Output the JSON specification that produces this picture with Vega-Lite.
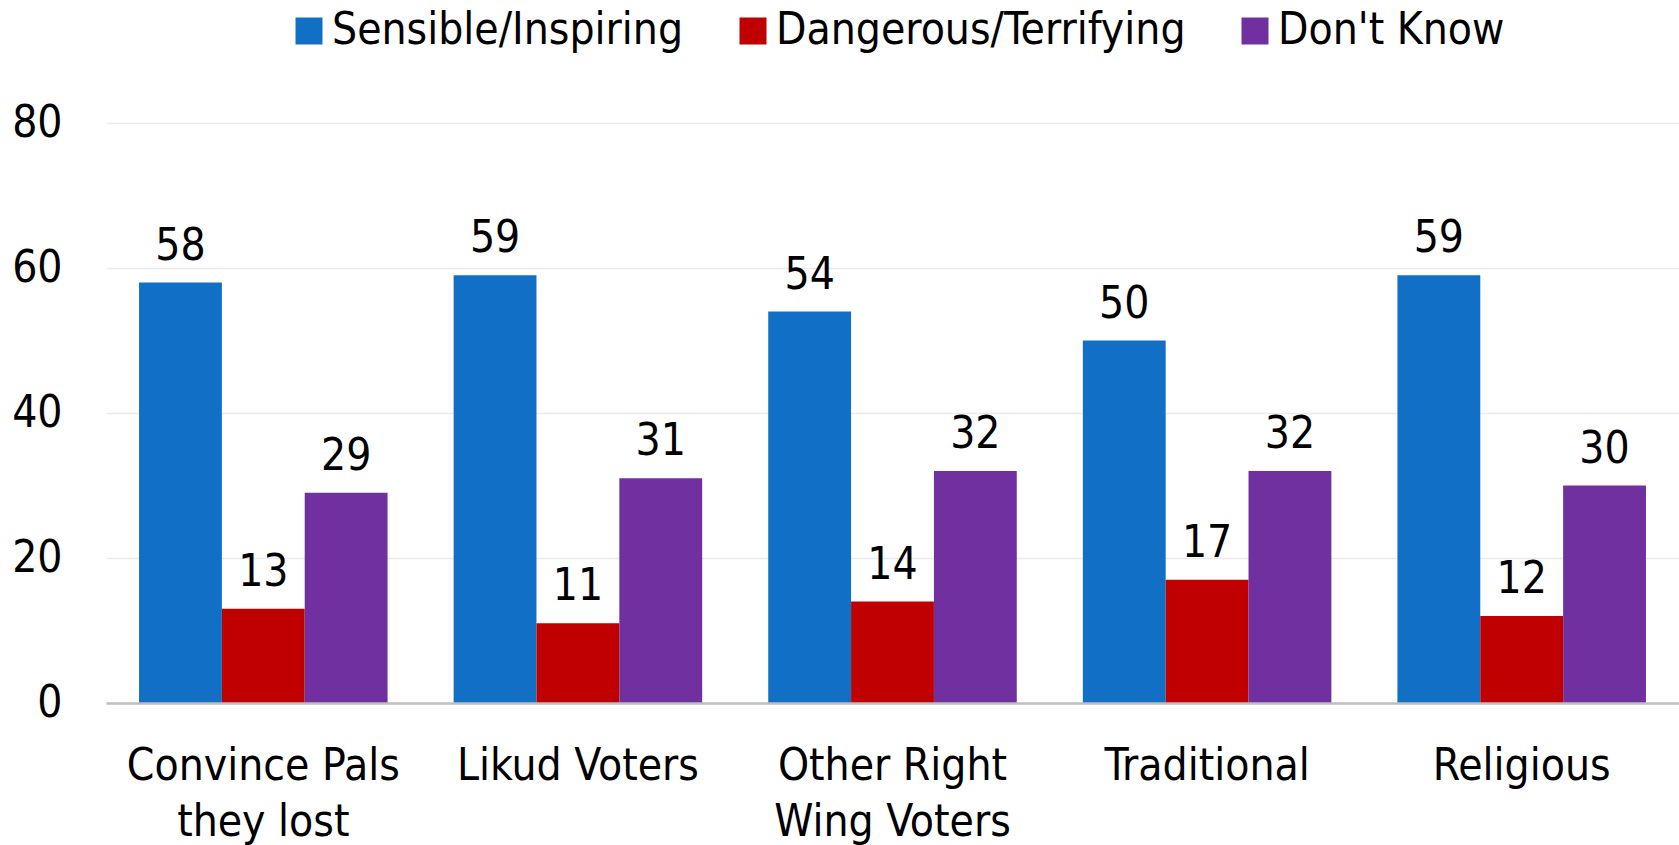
{
  "$schema": "https://vega.github.io/schema/vega-lite/v6.json",
  "autosize": {"type": "none"},
  "width": 1573,
  "height": 580,
  "padding": {"left": 106, "top": 123, "right": 0, "bottom": 142},
  "background": "white",
  "config": {
    "font": "Liberation Sans Narrow, DejaVu Sans Condensed, Liberation Sans",
    "view": {"stroke": null}
  },
  "data": {
    "values": [
      {"group": "Convince Pals they lost", "answer": "Sensible/Inspiring", "value": 58},
      {"group": "Convince Pals they lost", "answer": "Dangerous/Terrifying", "value": 13},
      {"group": "Convince Pals they lost", "answer": "Don't Know", "value": 29},
      {"group": "Likud Voters", "answer": "Sensible/Inspiring", "value": 59},
      {"group": "Likud Voters", "answer": "Dangerous/Terrifying", "value": 11},
      {"group": "Likud Voters", "answer": "Don't Know", "value": 31},
      {"group": "Other Right Wing Voters", "answer": "Sensible/Inspiring", "value": 54},
      {"group": "Other Right Wing Voters", "answer": "Dangerous/Terrifying", "value": 14},
      {"group": "Other Right Wing Voters", "answer": "Don't Know", "value": 32},
      {"group": "Traditional", "answer": "Sensible/Inspiring", "value": 50},
      {"group": "Traditional", "answer": "Dangerous/Terrifying", "value": 17},
      {"group": "Traditional", "answer": "Don't Know", "value": 32},
      {"group": "Religious", "answer": "Sensible/Inspiring", "value": 59},
      {"group": "Religious", "answer": "Dangerous/Terrifying", "value": 12},
      {"group": "Religious", "answer": "Don't Know", "value": 30}
    ]
  },
  "encoding": {
    "x": {
      "field": "group", "type": "nominal", "sort": null,
      "scale": {"paddingInner": 0.21, "paddingOuter": 0.105},
      "axis": {
        "title": null, "ticks": false, "domain": true, "domainColor": "#bfbfbf", "domainWidth": 2.5,
        "labelAngle": 0, "labelFontSize": 44, "labelColor": "#000000", "labelPadding": 41,
        "labelBaseline": "top", "labelLineHeight": 56, "labelLimit": 400, "zindex": 1,
        "labelExpr": "datum.label == 'Convince Pals they lost' ? ['Convince Pals', 'they lost'] : datum.label == 'Other Right Wing Voters' ? ['Other Right', 'Wing Voters'] : datum.label"
      }
    },
    "xOffset": {
      "field": "answer", "type": "nominal",
      "sort": ["Sensible/Inspiring", "Dangerous/Terrifying", "Don't Know"],
      "scale": {"paddingInner": 0, "paddingOuter": 0}
    },
    "y": {
      "field": "value", "type": "quantitative",
      "scale": {"domain": [0, 80], "nice": false},
      "axis": {
        "title": null, "values": [0, 20, 40, 60, 80], "ticks": false, "domain": false,
        "grid": true, "gridColor": "#ebebeb", "gridWidth": 1.5,
        "labelFontSize": 44, "labelColor": "#000000", "labelPadding": 44
      }
    }
  },
  "layer": [
    {
      "mark": {"type": "bar"},
      "encoding": {
        "color": {
          "field": "answer", "type": "nominal",
          "sort": ["Sensible/Inspiring", "Dangerous/Terrifying", "Don't Know"],
          "scale": {
            "domain": ["Sensible/Inspiring", "Dangerous/Terrifying", "Don't Know"],
            "range": ["#1170c6", "#c00000", "#7030a0"]
          },
          "legend": {
            "title": null, "orient": "none", "direction": "horizontal",
            "legendX": 181, "legendY": -114,
            "symbolType": "square", "symbolSize": 729, "symbolStrokeWidth": 0,
            "labelFontSize": 44, "labelColor": "#000000", "labelOffset": 1,
            "columnPadding": 47, "labelLimit": 500
          }
        }
      }
    },
    {
      "mark": {"type": "text", "fontSize": 44, "color": "#000000", "baseline": "alphabetic", "dy": -23},
      "encoding": {
        "text": {"field": "value", "type": "quantitative"}
      }
    }
  ]
}
